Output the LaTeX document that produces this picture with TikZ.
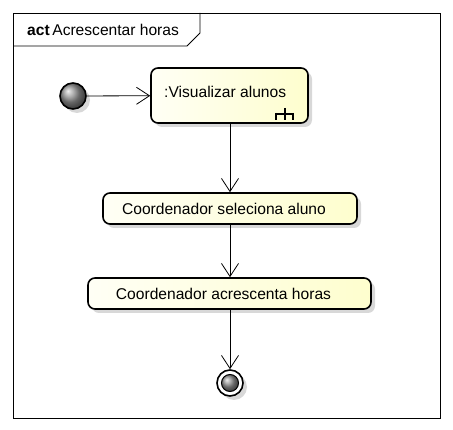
\documentclass[tikz,border=0pt]{standalone}
\usepackage{fontspec}
\setmainfont{Liberation Sans}
\usetikzlibrary{arrows.meta,shadows}
\definecolor{actyellow}{HTML}{FEFECE}
\definecolor{shadowgray}{HTML}{D8D8D8}
\tikzset{
  uml font/.style={font=\fontsize{15.6}{18}\selectfont},
  actbox/.style={draw=black, line width=1.6pt, rounded corners=7pt,
    left color=white!80!actyellow, right color=actyellow,
    drop shadow={shadow xshift=4pt, shadow yshift=-4pt, fill=shadowgray, opacity=1},
    inner sep=0pt, uml font},
  flow/.style={draw=black, line width=0.8pt, -{Straight Barb[length=13pt,width=17pt,line width=0.8pt]}},
  startball/.style={ball color=gray!85},
}
\begin{document}
\begin{tikzpicture}[x=1pt,y=-1pt]
\useasboundingbox (0,0) rectangle (453,430);
% frame
\draw[line width=0.8pt] (13,13) rectangle (440,418);
\draw[line width=0.8pt] (13,46) -- (187,46) -- (200,33) -- (200,13);
\node[anchor=west, inner sep=0pt, uml font] (title) at (27,30) {\textbf{act}\,Acrescentar horas};
% initial node
\fill[shadowgray] (77,100) circle (13);
\shade[startball] (73,96) circle (13);
\node[circle, draw=black, line width=1.6pt, minimum size=26pt, inner sep=0pt] (init) at (73,96) {};
% activity boxes
\node[actbox, minimum width=157pt, minimum height=55pt] (a1) at (229.5,95.5) {};
\node[anchor=west, inner sep=0pt, uml font] (a1t) at (164,92) {:Visualizar alunos};
\draw[line width=2pt] (276,114) -- (293,114);
\draw[line width=2pt] (276,113) -- (276,120);
\draw[line width=2pt] (293,113) -- (293,120);
\draw[line width=2pt] (284.5,108) -- (284.5,120);
\node[actbox, minimum width=254pt, minimum height=31pt] (a2) at (230,208.5) {\hspace*{-12pt}Coordenador seleciona aluno};
\node[actbox, minimum width=283pt, minimum height=31pt] (a3) at (229.5,293.5) {\hspace*{-12pt}Coordenador acrescenta horas};
% final node
\fill[shadowgray] (234,387) circle (13);
\node[circle, draw=black, line width=1.6pt, fill=white, minimum size=26pt, inner sep=0pt] (fin) at (230,383) {};
\shade[startball] (230,383) circle (8.5);
\draw[line width=1pt] (230,383) circle (8.5);
% flows
\draw[flow] (init) -- (a1);
\draw[flow] (a1.south -| 230,0) -- (a2.north -| 230,0);
\draw[flow] (a2.south -| 230,0) -- (a3.north -| 230,0);
\draw[flow] (a3.south -| 230,0) -- (fin.north);
\end{tikzpicture}
\end{document}
